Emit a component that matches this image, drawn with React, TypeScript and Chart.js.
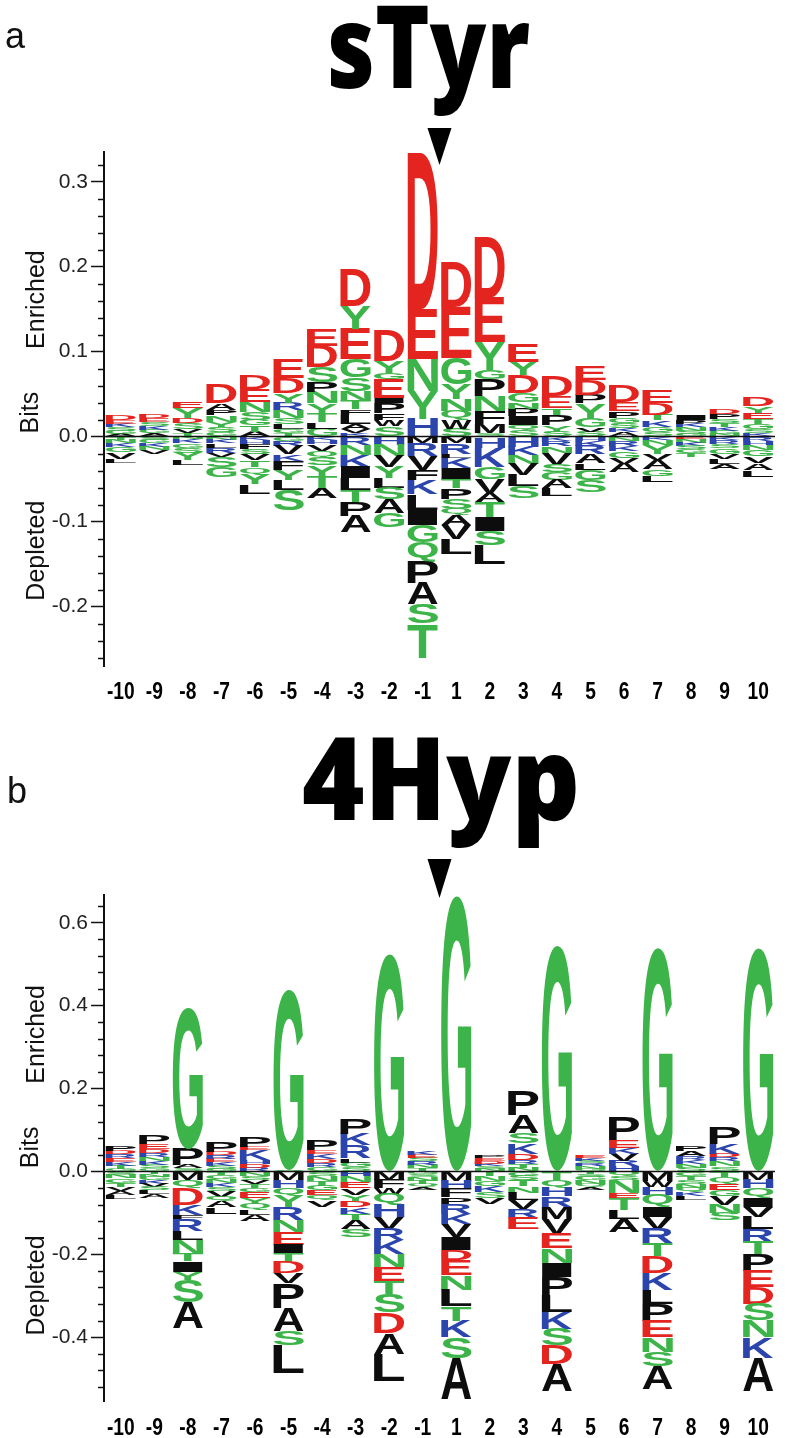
import React, { useEffect, useRef } from 'react';
import { Chart, registerables } from 'chart.js';

Chart.register(...registerables);

// ---------- data ----------
const POSITIONS = ['-10', '-9', '-8', '-7', '-6', '-5', '-4', '-3', '-2', '-1', '1', '2', '3', '4', '5', '6', '7', '8', '9', '10'];

// panel a (sTyr): letters listed from the zero line outward, with their heights in bits
const STYR_UP_LETTERS = ['AGSKED', 'AGKSED', 'TVSDYE', 'GSYNPAD', 'ATGSNED', 'TGLSNRYDE', 'GLTYNPSDE', 'KVALFTNSGEYD', 'SWFPIEGYD', 'HYNED',
  'SWQNYGED', 'SMFNPGYED', 'SQIPNGDYE', 'SYPTED', 'SVGYPDE', 'AKSGPED', 'SGKTDE', 'GSNKPI', 'NGKTSPD', 'KSGTEYD'];
const STYR_UP_BITS = [
  [0.003, 0.004, 0.004, 0.004, 0.004, 0.006],
  [0.004, 0.004, 0.004, 0.005, 0.005, 0.005],
  [0.004, 0.005, 0.007, 0.006, 0.012, 0.008],
  [0.005, 0.006, 0.006, 0.008, 0.006, 0.008, 0.022],
  [0.006, 0.007, 0.007, 0.009, 0.012, 0.015, 0.017],
  [0.004, 0.005, 0.006, 0.007, 0.009, 0.009, 0.011, 0.018, 0.022],
  [0.009, 0.008, 0.01, 0.012, 0.013, 0.012, 0.018, 0.025, 0.02],
  [0.004, 0.005, 0.006, 0.011, 0.006, 0.01, 0.012, 0.016, 0.021, 0.036, 0.027, 0.044],
  [0.012, 0.008, 0.008, 0.012, 0.006, 0.022, 0.007, 0.014, 0.036],
  [0.021, 0.033, 0.037, 0.059, 0.184],
  [0.009, 0.01, 0.011, 0.014, 0.018, 0.031, 0.06, 0.052],
  [0.004, 0.011, 0.015, 0.018, 0.02, 0.01, 0.033, 0.052, 0.072],
  [0.008, 0.006, 0.01, 0.009, 0.007, 0.011, 0.021, 0.016, 0.021],
  [0.006, 0.008, 0.012, 0.008, 0.014, 0.024],
  [0.006, 0.005, 0.01, 0.018, 0.01, 0.018, 0.016],
  [0.005, 0.005, 0.006, 0.006, 0.008, 0.011, 0.019],
  [0.005, 0.006, 0.008, 0.007, 0.013, 0.015],
  [0.003, 0.004, 0.004, 0.004, 0.004, 0.006],
  [0.003, 0.004, 0.004, 0.005, 0.005, 0.006, 0.006],
  [0.004, 0.005, 0.006, 0.006, 0.007, 0.008, 0.01],
];
const STYR_DOWN_LETTERS = ['TNKGVL', 'SGKNV', 'NKGSYL', 'NKLRVSG', 'KHFSVTQYL', 'GRVKFYLS', 'KHVQSYTA', 'RNKILTPA', 'HNVYLSAG', 'MRVFKLIGQPAST',
  'MRLKITPSQAVL', 'HKGVATISL', 'HKNVLS', 'KRNVSGAL', 'HKRALGS', 'NRKGVA', 'KNYVAGL', 'ENKSGT', 'KRSGVLA', 'RHNGVAL'];
const STYR_DOWN_BITS = [
  [0.004, 0.004, 0.004, 0.006, 0.008, 0.005],
  [0.004, 0.004, 0.004, 0.004, 0.004],
  [0.003, 0.005, 0.005, 0.006, 0.009, 0.006],
  [0.004, 0.004, 0.005, 0.006, 0.005, 0.012, 0.012],
  [0.004, 0.005, 0.006, 0.006, 0.007, 0.008, 0.008, 0.012, 0.011],
  [0.005, 0.006, 0.01, 0.008, 0.01, 0.012, 0.012, 0.024],
  [0.004, 0.005, 0.008, 0.008, 0.009, 0.012, 0.014, 0.012],
  [0.01, 0.012, 0.014, 0.013, 0.014, 0.014, 0.017, 0.019],
  [0.01, 0.013, 0.013, 0.013, 0.012, 0.013, 0.016, 0.017],
  [0.008, 0.015, 0.016, 0.012, 0.017, 0.018, 0.018, 0.02, 0.023, 0.025, 0.025, 0.023, 0.04],
  [0.008, 0.012, 0.005, 0.012, 0.014, 0.01, 0.012, 0.012, 0.007, 0.012, 0.016, 0.018],
  [0.013, 0.023, 0.014, 0.016, 0.011, 0.018, 0.016, 0.017, 0.022],
  [0.012, 0.01, 0.01, 0.013, 0.013, 0.014],
  [0.005, 0.006, 0.008, 0.014, 0.009, 0.009, 0.01, 0.009],
  [0.005, 0.006, 0.01, 0.01, 0.008, 0.012, 0.014],
  [0.005, 0.006, 0.006, 0.008, 0.007, 0.01],
  [0.004, 0.006, 0.01, 0.008, 0.01, 0.008, 0.008],
  [0.003, 0.004, 0.004, 0.004, 0.004, 0.005],
  [0.004, 0.005, 0.005, 0.006, 0.006, 0.006, 0.006],
  [0.005, 0.005, 0.006, 0.007, 0.008, 0.008, 0.008],
];
const STYR_Y_TICKS = [-0.2, -0.1, 0, 0.1, 0.2, 0.3];

// panel b (4Hyp)
const HYP_UP_LETTERS = ['GTKERDP', 'GSKNRDEP', 'SAPG', 'GSKERDP', 'RDHKEP', 'SG', 'GRDKEP', 'SGLRKP', 'G', 'TNRSEK',
  'G', 'NSKDEP', 'NTRDKSAP', 'G', 'GNRSKE', 'HRVKEP', 'G', 'SNKRAP', 'SNRDKP', 'G'];
const HYP_UP_BITS = [
  [0.006, 0.008, 0.009, 0.01, 0.009, 0.008, 0.012],
  [0.007, 0.009, 0.009, 0.01, 0.01, 0.01, 0.011, 0.02],
  [0.007, 0.008, 0.04, 0.341],
  [0.006, 0.008, 0.008, 0.008, 0.009, 0.008, 0.024],
  [0.009, 0.009, 0.009, 0.024, 0.008, 0.024],
  [0.003, 0.437],
  [0.01, 0.01, 0.01, 0.013, 0.008, 0.024],
  [0.01, 0.011, 0.01, 0.032, 0.028, 0.036],
  [0.525],
  [0.008, 0.008, 0.008, 0.008, 0.008, 0.01],
  [0.665],
  [0.006, 0.006, 0.007, 0.007, 0.006, 0.007],
  [0.009, 0.009, 0.009, 0.016, 0.024, 0.026, 0.042, 0.06],
  [0.545],
  [0.006, 0.006, 0.007, 0.007, 0.007, 0.007],
  [0.012, 0.014, 0.017, 0.014, 0.018, 0.056],
  [0.54],
  [0.009, 0.009, 0.01, 0.01, 0.012, 0.013],
  [0.012, 0.012, 0.01, 0.009, 0.024, 0.04],
  [0.539],
];
const HYP_DOWN_LETTERS = ['SNGTVAL', 'TNGKVSLA', 'MQDKFRLNTIYSA', 'TGNKSVQAL', 'NSVTGEYQLA', 'MHQYRNEITDVPASL', 'SNTGEQV', 'HNEVYDKTAS', 'MFWQHVRKNETSDAL', 'GSNTQA',
  'MHFPRKVIDENLTKSA', 'TNGKSV', 'GSTNLVRE', 'TQHRMVENIPLKSDA', 'TSGNQA', 'QSNETLA', 'MWHQIVRTDKLPENSA', 'GTSNQKL', 'TQEGVNS', 'MHQIVLRTPEDSNKA'];
const HYP_DOWN_BITS = [
  [0.008, 0.009, 0.01, 0.01, 0.01, 0.01, 0.01],
  [0.007, 0.007, 0.008, 0.008, 0.008, 0.008, 0.008, 0.01],
  [0.02, 0.02, 0.04, 0.025, 0.01, 0.028, 0.022, 0.034, 0.018, 0.026, 0.018, 0.055, 0.062],
  [0.008, 0.01, 0.01, 0.01, 0.01, 0.014, 0.01, 0.015, 0.015],
  [0.01, 0.01, 0.01, 0.01, 0.01, 0.014, 0.014, 0.014, 0.012, 0.016],
  [0.021, 0.019, 0.02, 0.026, 0.032, 0.028, 0.032, 0.02, 0.02, 0.028, 0.024, 0.06, 0.055, 0.035, 0.067],
  [0.01, 0.012, 0.012, 0.012, 0.012, 0.012, 0.015],
  [0.012, 0.014, 0.014, 0.016, 0.016, 0.014, 0.016, 0.016, 0.02, 0.02],
  [0.02, 0.02, 0.014, 0.026, 0.03, 0.028, 0.028, 0.034, 0.03, 0.035, 0.03, 0.045, 0.05, 0.05, 0.065],
  [0.007, 0.007, 0.008, 0.008, 0.008, 0.007],
  [0.022, 0.02, 0.02, 0.016, 0.024, 0.024, 0.032, 0.032, 0.024, 0.036, 0.035, 0.04, 0.035, 0.04, 0.05, 0.1],
  [0.012, 0.012, 0.012, 0.014, 0.014, 0.014],
  [0.01, 0.012, 0.014, 0.016, 0.018, 0.02, 0.022, 0.026],
  [0.02, 0.02, 0.02, 0.026, 0.028, 0.036, 0.036, 0.034, 0.035, 0.045, 0.04, 0.04, 0.04, 0.045, 0.065],
  [0.007, 0.007, 0.008, 0.008, 0.008, 0.007],
  [0.012, 0.01, 0.031, 0.012, 0.029, 0.022, 0.03],
  [0.022, 0.016, 0.018, 0.03, 0.024, 0.028, 0.036, 0.031, 0.04, 0.04, 0.035, 0.04, 0.04, 0.035, 0.035, 0.055],
  [0.01, 0.01, 0.01, 0.01, 0.01, 0.01, 0.01],
  [0.014, 0.014, 0.016, 0.016, 0.02, 0.02, 0.018],
  [0.02, 0.02, 0.024, 0.022, 0.024, 0.03, 0.03, 0.03, 0.04, 0.04, 0.04, 0.04, 0.04, 0.05, 0.08],
];
const HYP_Y_TICKS = [-0.4, -0.2, 0, 0.2, 0.4, 0.6];

// ---------- styling ----------
const SANS = "'Liberation Sans', Arial, Helvetica, sans-serif";
const TITLE_FONT = "'Open Sans', 'Liberation Sans', sans-serif";

function letterColor(l: string): string {
  if ('DE'.includes(l)) return '#e3241f';
  if ('KRH'.includes(l)) return '#2b45ad';
  if ('GSTYCNQ'.includes(l)) return '#3db449';
  return '#0d0d0d';
}

const metricCache: Record<string, { l: number; r: number; a: number; d: number }> = {};
function glyph(ctx: CanvasRenderingContext2D, letter: string) {
  if (!metricCache[letter]) {
    ctx.save();
    ctx.font = `bold 200px ${SANS}`;
    const m = ctx.measureText(letter);
    metricCache[letter] = {
      l: m.actualBoundingBoxLeft,
      r: m.actualBoundingBoxRight,
      a: m.actualBoundingBoxAscent,
      d: m.actualBoundingBoxDescent,
    };
    ctx.restore();
  }
  return metricCache[letter];
}

function buildDatasets(upL: string[], upB: number[][], downL: string[], downB: number[][]) {
  const ds: any[] = [];
  const maxUp = Math.max(...upB.map((b) => b.length));
  for (let r = 0; r < maxUp; r++) {
    ds.push({
      data: upB.map((b) => (b[r] != null ? b[r] : 0)),
      letters: upL.map((s) => s[r] || ''),
      backgroundColor: 'rgba(0,0,0,0)',
      borderWidth: 0,
      stack: 'logo',
    });
  }
  const maxDown = Math.max(...downB.map((b) => b.length));
  for (let r = 0; r < maxDown; r++) {
    ds.push({
      data: downB.map((b) => (b[r] != null ? -b[r] : 0)),
      letters: downL.map((s) => s[r] || ''),
      backgroundColor: 'rgba(0,0,0,0)',
      borderWidth: 0,
      stack: 'logo',
    });
  }
  return ds;
}

function drawScaledText(ctx: CanvasRenderingContext2D, text: string, x: number, y: number, sx: number) {
  ctx.save();
  ctx.translate(x, y);
  ctx.scale(sx, 1);
  ctx.fillText(text, 0, 0);
  ctx.restore();
}

const logoPlugin = {
  id: 'logo',
  afterDatasetsDraw(chart: any) {
    const ctx: CanvasRenderingContext2D = chart.ctx;
    chart.data.datasets.forEach((ds: any, i: number) => {
      const meta = chart.getDatasetMeta(i);
      meta.data.forEach((bar: any, j: number) => {
        const letter = ds.letters[j];
        if (!letter) return;
        const p = bar.getProps(['x', 'y', 'base', 'width'], true);
        const top = Math.min(p.y, p.base);
        const h = Math.abs(p.base - p.y);
        if (h < 0.4) return;
        const g = glyph(ctx, letter);
        const gw = g.l + g.r;
        const gh = g.a + g.d;
        ctx.save();
        ctx.translate(p.x - p.width / 2, top);
        ctx.scale(p.width / gw, h / gh);
        ctx.font = `bold 200px ${SANS}`;
        ctx.textAlign = 'left';
        ctx.textBaseline = 'alphabetic';
        ctx.fillStyle = letterColor(letter);
        ctx.fillText(letter, g.l, g.a);
        ctx.restore();
      });
    });
    // zero line
    const y0 = chart.scales.y.getPixelForValue(0);
    const area = chart.chartArea;
    ctx.save();
    ctx.strokeStyle = '#111';
    ctx.lineWidth = 1.5;
    ctx.beginPath();
    ctx.moveTo(area.left, y0);
    ctx.lineTo(area.right, y0);
    ctx.stroke();
    ctx.restore();
  },
  afterDraw(chart: any, _args: any, opts: any) {
    const ctx: CanvasRenderingContext2D = chart.ctx;
    const ys = chart.scales.y;
    const xs = chart.scales.x;
    const area = chart.chartArea;
    ctx.save();
    // minor ticks
    ctx.strokeStyle = '#111';
    ctx.lineWidth = 1.5;
    const n0 = Math.ceil(ys.min / opts.minorStep - 1e-6);
    const n1 = Math.floor(ys.max / opts.minorStep + 1e-6);
    for (let k = n0; k <= n1; k++) {
      const v = k * opts.minorStep;
      const r = v / opts.majorStep;
      if (Math.abs(r - Math.round(r)) < 1e-6) continue;
      const py = Math.round(ys.getPixelForValue(v)) + 0.5;
      ctx.beginPath();
      ctx.moveTo(area.left - 6, py);
      ctx.lineTo(area.left, py);
      ctx.stroke();
    }
    // position labels (condensed bold) at the category scale's tick positions
    ctx.fillStyle = '#000';
    ctx.font = `bold 24px ${SANS}`;
    ctx.textAlign = 'center';
    ctx.textBaseline = 'middle';
    POSITIONS.forEach((lab, i) => {
      drawScaledText(ctx, lab, xs.getPixelForTick(i), area.bottom + opts.labelOffset, 0.8);
    });
    // rotated axis words
    const y0 = ys.getPixelForValue(0);
    ctx.fillStyle = '#111';
    ctx.font = `25px ${SANS}`;
    ctx.textAlign = 'center';
    ctx.textBaseline = 'alphabetic';
    const words = [
      { t: 'Enriched', x: 44, y: y0 - 137 },
      { t: 'Bits', x: 38, y: y0 - 24 },
      { t: 'Depleted', x: 44, y: y0 + 114 },
    ];
    words.forEach((w) => {
      ctx.save();
      ctx.translate(w.x, w.y);
      ctx.rotate(-Math.PI / 2);
      ctx.fillText(w.t, 0, 0);
      ctx.restore();
    });
    // panel letter
    ctx.font = `36px ${SANS}`;
    ctx.textAlign = 'left';
    ctx.fillText(opts.panel, opts.panelX, opts.panelBaseline);
    // title
    ctx.font = `800 116px ${TITLE_FONT}`;
    ctx.textAlign = 'left';
    ctx.fillStyle = '#000';
    drawScaledText(ctx, opts.title, opts.titleX, opts.titleBaseline, opts.titleScale);
    // triangle marking the modified residue (between -1 and 1)
    const tx = xs.getPixelForValue(9.5);
    ctx.beginPath();
    ctx.moveTo(tx - 12, opts.triTop);
    ctx.lineTo(tx + 12, opts.triTop);
    ctx.lineTo(tx, opts.triBottom);
    ctx.closePath();
    ctx.fillStyle = '#000';
    ctx.fill();
    ctx.restore();
  },
};

function makeChart(canvas: HTMLCanvasElement, cfg: any) {
  return new Chart(canvas, {
    type: 'bar',
    data: {
      labels: POSITIONS,
      datasets: buildDatasets(cfg.upL, cfg.upB, cfg.downL, cfg.downB),
    },
    options: {
      animation: false,
      responsive: false,
      maintainAspectRatio: false,
      devicePixelRatio: 1,
      layout: { padding: { top: cfg.padTop, right: 25, left: 0, bottom: 0 } },
      datasets: { bar: { barPercentage: 0.9, categoryPercentage: 1 } },
      plugins: {
        legend: { display: false },
        tooltip: { enabled: false },
        title: { display: false },
        logo: cfg.logo,
      } as any,
      scales: {
        x: {
          stacked: true,
          grid: { display: false, drawTicks: false },
          border: { display: false },
          ticks: { display: false, autoSkip: false, maxRotation: 0 },
          afterFit: (s: any) => {
            s.height = cfg.xHeight;
          },
        },
        y: {
          stacked: true,
          min: cfg.min,
          max: cfg.max,
          afterBuildTicks: (s: any) => {
            s.ticks = cfg.ticks.map((v: number) => ({ value: v }));
          },
          ticks: {
            color: '#222',
            padding: 3,
            font: { family: SANS, size: 21 },
            callback: (v: any) => Number(v).toFixed(1),
          },
          grid: {
            drawOnChartArea: false,
            drawTicks: true,
            tickLength: 13,
            tickWidth: 1.5,
            tickColor: '#111',
          },
          border: { display: true, color: '#111', width: 2 },
          afterFit: (s: any) => {
            s.width = 104;
          },
        },
      } as any,
    },
    plugins: [logoPlugin as any],
  });
}

export default function App() {
  const topRef = useRef<HTMLCanvasElement>(null);
  const botRef = useRef<HTMLCanvasElement>(null);

  useEffect(() => {
    const c1 = makeChart(topRef.current!, {
      upL: STYR_UP_LETTERS, upB: STYR_UP_BITS, downL: STYR_DOWN_LETTERS, downB: STYR_DOWN_BITS,
      min: -0.27, max: 0.335, ticks: STYR_Y_TICKS,
      padTop: 152, xHeight: 54,
      logo: {
        minorStep: 0.02, majorStep: 0.1, labelOffset: 26,
        panel: 'a', panelX: 5, panelBaseline: 48,
        title: 'sTyr', titleX: 327, titleBaseline: 88, titleScale: 0.8,
        triTop: 128, triBottom: 165,
      },
    });
    const c2 = makeChart(botRef.current!, {
      upL: HYP_UP_LETTERS, upB: HYP_UP_BITS, downL: HYP_DOWN_LETTERS, downB: HYP_DOWN_BITS,
      min: -0.554, max: 0.667, ticks: HYP_Y_TICKS,
      padTop: 175, xHeight: 37,
      logo: {
        minorStep: 0.04, majorStep: 0.2, labelOffset: 27,
        panel: 'b', panelX: 7, panelBaseline: 83,
        title: '4Hyp', titleX: 302, titleBaseline: 100, titleScale: 0.92,
        triTop: 139, triBottom: 178,
      },
    });
    return () => {
      c1.destroy();
      c2.destroy();
    };
  }, []);

  return (
    <div style={{ position: 'absolute', left: 0, top: 0, width: 800, height: 1438, background: '#fff' }}>
      <canvas ref={topRef} width={800} height={720} style={{ position: 'absolute', left: 0, top: 0, width: 800, height: 720 }} />
      <canvas ref={botRef} width={800} height={718} style={{ position: 'absolute', left: 0, top: 720, width: 800, height: 718 }} />
    </div>
  );
}
